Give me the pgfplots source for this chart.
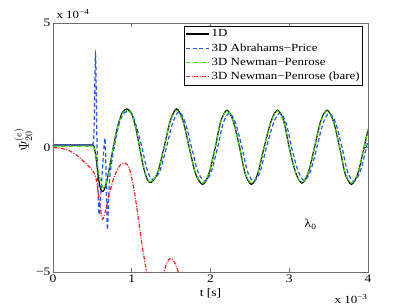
\documentclass[border=0pt]{standalone}
\usepackage{fontspec}
\setmainfont{Liberation Serif}[FakeStretch=1.18]
\usepackage{pgfplots}
\pgfplotsset{compat=1.18}
\definecolor{mblue}{RGB}{40,80,255}
\definecolor{mgreen}{RGB}{60,220,0}
\definecolor{mred}{RGB}{255,30,30}
\definecolor{axgray}{RGB}{110,110,110}
\begin{document}
\begin{tikzpicture}
\begin{axis}[
  name=ax,
  scale only axis,
  width=315bp, height=249bp,
  xmin=0, xmax=4, ymin=-5, ymax=5,
  xtick={0,1,2,3,4},
  ytick={-5,0,5},
  yticklabels={−5,0,5},
  scaled ticks=false,
  tick align=inside,
  major tick length=4bp,
  axis line style={axgray, line width=0.6bp},
  tick style={axgray, line width=0.6bp},
  ticklabel style={font=\fontsize{11.5}{13}\selectfont},
  /pgf/number format/assume math mode=true,
  xtick pos=both, ytick pos=both,
  xticklabel style={yshift=1bp},
  yticklabel style={xshift=1bp},
  xlabel={t [s]},
  xlabel style={font=\fontsize{11.5}{13}\selectfont, at={(axis description cs:0.5,0)}, anchor=center, yshift=-21bp},
  ylabel={$\Psi^{(e)}_{20}$},
  ylabel style={font=\fontsize{14}{16}\selectfont, at={(axis description cs:-0.095,0.53)}, anchor=center, rotate=0},
  legend style={at={(axis description cs:0.984,0.988)}, anchor=north east,
    font=\fontsize{11}{13}\selectfont, draw=black, line width=0.5bp,
    row sep=1.3bp, inner xsep=1bp, inner ysep=1.5bp, cells={anchor=west}},
  legend cell align=left,
  legend image code/.code={\draw[#1, line width=1.2bp] (4bp,0bp) -- (27bp,0bp);},
  clip=true,
]
\addplot[black, line width=1.2bp, smooth] coordinates {
(0,0.1)(0.3,0.1)(0.48,0.1)(0.52,0.05)(0.55,-0.5)(0.58,-1.3)(0.61,-1.7)(0.64,-1.75)(0.68,-1.4)(0.73,-0.6)(0.78,0.25)(0.83,0.95)(0.88,1.4)(0.94,1.55)(1.00,1.35)(1.05,0.8)(1.10,0.0)(1.15,-0.8)(1.20,-1.3)(1.25,-1.40)
(1.33,-1.0)(1.41,0)(1.49,1.08)(1.57,1.55)(1.65,1.08)(1.73,0)(1.81,-1.05)(1.90,-1.48)(1.98,-1.05)(2.06,0)(2.13,1.05)(2.21,1.50)(2.29,1.05)(2.37,0)(2.44,-1.05)(2.52,-1.48)(2.60,-1.05)(2.68,0)(2.77,1.06)(2.85,1.50)(2.93,1.06)(3.00,0)(3.08,-1.0)(3.16,-1.43)(3.24,-1.03)(3.32,0)(3.40,1.06)(3.48,1.50)(3.56,1.06)(3.64,0)(3.71,-1.05)(3.79,-1.48)(3.87,-1.05)(3.95,0)(4.00,0.72)
};
\addlegendentry{1D}
\addplot[mblue, line width=1.2bp, smooth, dash pattern=on 4bp off 2.5bp] coordinates {
(0,0.1)(0.45,0.1)(0.5,0.12)(0.52,0.6)(0.54,3.75)(0.555,0.8)(0.57,-1.5)(0.585,-2.7)(0.60,-2.2)(0.63,-0.8)(0.66,0.38)(0.675,-1.2)(0.69,-3.3)(0.705,-2.2)(0.72,-1.2)(0.76,-0.3)(0.81,0.55)(0.86,1.15)(0.91,1.4)(0.965,1.45)(1.02,1.22)(1.07,0.72)(1.13,0.0)(1.18,-0.72)(1.23,-1.17)(1.28,-1.28)
(1.36,-0.92)(1.44,0)(1.52,0.99)(1.60,1.43)(1.68,0.99)(1.76,0)(1.84,-0.97)(1.93,-1.36)(2.01,-0.97)(2.09,0)(2.16,0.97)(2.24,1.38)(2.32,0.97)(2.40,0)(2.47,-0.97)(2.55,-1.36)(2.63,-0.97)(2.71,0)(2.80,0.98)(2.88,1.38)(2.96,0.98)(3.03,0)(3.11,-0.92)(3.19,-1.32)(3.27,-0.95)(3.35,0)(3.43,0.98)(3.51,1.38)(3.59,0.98)(3.67,0)(3.74,-0.97)(3.82,-1.36)(3.90,-0.97)(3.98,0)(4.00,0.3)
};
\addlegendentry{3D Abrahams−Price}
\addplot[mgreen, line width=1.2bp, smooth, dash pattern=on 4bp off 1.5bp on 1bp off 1.5bp] coordinates {
(0,0.05)(0.3,0.05)(0.48,0.05)(0.52,0.0)(0.56,-0.6)(0.60,-1.3)(0.64,-1.62)(0.68,-1.38)(0.73,-0.6)(0.78,0.25)(0.83,0.93)(0.88,1.37)(0.94,1.5)(1.00,1.32)(1.05,0.78)(1.10,0.0)(1.15,-0.78)(1.20,-1.27)(1.25,-1.38)
(1.33,-0.98)(1.41,0)(1.49,1.05)(1.57,1.5)(1.65,1.05)(1.73,0)(1.81,-1.02)(1.90,-1.43)(1.98,-1.02)(2.06,0)(2.13,1.03)(2.21,1.47)(2.29,1.03)(2.37,0)(2.44,-1.02)(2.52,-1.43)(2.60,-1.02)(2.68,0)(2.77,1.03)(2.85,1.47)(2.93,1.03)(3.00,0)(3.08,-0.98)(3.16,-1.40)(3.24,-1.0)(3.32,0)(3.40,1.03)(3.48,1.47)(3.56,1.03)(3.64,0)(3.71,-1.02)(3.79,-1.43)(3.87,-1.02)(3.95,0)(4.00,0.7)
};
\addlegendentry{3D Newman−Penrose}
\addplot[mred, line width=1.2bp, smooth, dash pattern=on 4bp off 1.5bp on 1bp off 1.5bp] coordinates {
(0,0)(0.1,-0.03)(0.2,-0.12)(0.3,-0.3)(0.4,-0.6)(0.5,-0.9)(0.55,-1.3)(0.6,-2.4)(0.63,-2.88)(0.67,-2.5)(0.72,-1.8)(0.78,-1.15)(0.85,-0.72)(0.91,-0.62)(0.97,-0.85)(1.03,-1.7)(1.09,-3.0)(1.14,-4.1)(1.19,-5.0)(1.25,-5.8)(1.33,-5.9)(1.40,-5.1)(1.45,-4.6)(1.495,-4.45)(1.54,-4.6)(1.59,-5.0)(1.65,-5.8)(1.75,-7)
};
\addlegendentry{3D Newman−Penrose (bare)}
\node[font=\fontsize{12}{14}\selectfont] at (axis cs:3.27,-3.1) {λ\textsubscript{0}};
\end{axis}
\node[font=\fontsize{11}{13}\selectfont, anchor=base west] at ([yshift=5bp]ax.north west) {x 10\textsuperscript{−4}};
\node[font=\fontsize{11}{13}\selectfont, anchor=base east] at ([xshift=3bp,yshift=-31bp]ax.south east) {x 10\textsuperscript{−3}};
\pgfresetboundingbox
\path ([shift={(-53bp,-34bp)}]ax.south west) rectangle ([shift={(39bp,23bp)}]ax.north east);
\end{tikzpicture}
\end{document}
